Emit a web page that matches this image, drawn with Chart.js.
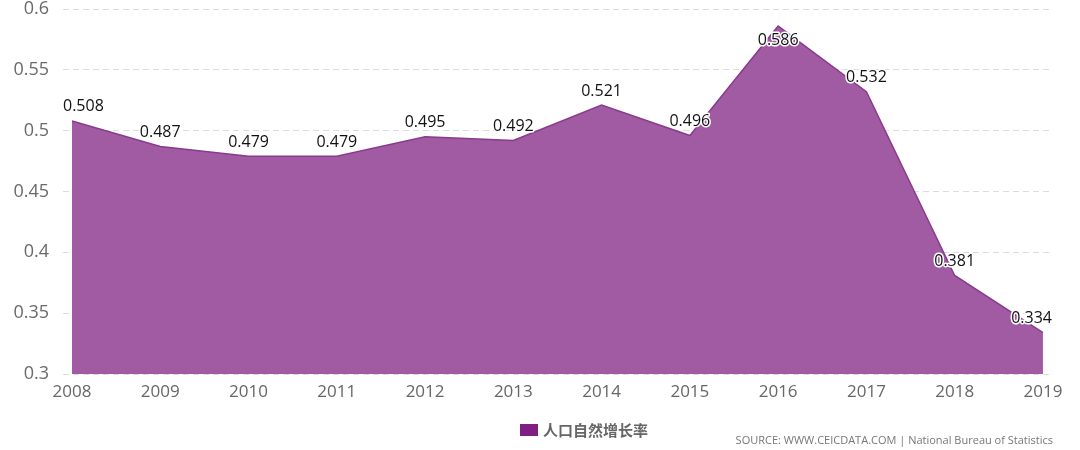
<!DOCTYPE html>
<html><head><meta charset="utf-8">
<script src="https://cdn.jsdelivr.net/npm/chart.js@4/dist/chart.umd.min.js"></script>
<style>
html,body{margin:0;padding:0;background:#fff;}
#wrap{position:relative;width:1080px;height:450px;}
#src{position:absolute;right:27px;top:432px;font:11px "Open Sans","DejaVu Sans",sans-serif;color:#777;white-space:nowrap;}
</style></head>
<body><div id="wrap"><canvas id="c" width="1080" height="450"></canvas>
<div id="src">SOURCE: WWW.CEICDATA.COM | National Bureau of Statistics</div></div>
<script>
const years = [2008,2009,2010,2011,2012,2013,2014,2015,2016,2017,2018,2019];
const values = [0.508,0.487,0.479,0.479,0.495,0.492,0.521,0.496,0.586,0.532,0.381,0.334];
const yTicks = [0.3,0.35,0.4,0.45,0.5,0.55,0.6];
const seriesName = '人口自然增长率';

const labelPlugin = {
  id:'lbl',
  afterDatasetsDraw(chart){
    const ctx = chart.ctx, meta = chart.getDatasetMeta(0);
    ctx.save();
    ctx.font = '16px "Open Sans","DejaVu Sans",sans-serif';
    ctx.textAlign='center'; ctx.textBaseline='middle';
    meta.data.forEach((p,i)=>{
      const t = String(values[i]);
      let y = p.y - 14;
      if (y - 8 < chart.chartArea.top + 10) y = p.y + 14;
      const w = ctx.measureText(t).width;
      let x = Math.min(p.x, chart.width - 28 - w/2);
      x = Math.max(x, chart.chartArea.left + w/2);
      ctx.lineWidth = 3; ctx.strokeStyle='#fff'; ctx.lineJoin='round';
      ctx.strokeText(t,x,y);
      ctx.fillStyle='#111'; ctx.fillText(t,x,y);
    });
    // legend
    ctx.fillStyle='#7f1f82';
    ctx.fillRect(520,424,18,12);
    ctx.font='bold 15px "Noto Sans CJK SC",sans-serif';
    ctx.fillStyle='#666'; ctx.textAlign='left';
    ctx.fillText(seriesName,543,430);
    ctx.restore();
  }
};

new Chart(document.getElementById('c'),{
  type:'line',
  data:{datasets:[{label:seriesName,data:years.map((y,i)=>({x:y,y:values[i]})),
    fill:'start',backgroundColor:'#a15ba3',borderColor:'#8a3a8c',borderWidth:1.5,
    pointRadius:0,tension:0}]},
  options:{responsive:false,animation:false,
    layout:{padding:{top:9,right:30,left:0,bottom:0}},
    plugins:{legend:{display:false},tooltip:{enabled:false}},
    scales:{
      x:{type:'linear',min:2007.898,max:2019.08,
        afterBuildTicks(s){s.ticks=years.map(v=>({value:v}));},
        afterFit(s){s.height=76;s.paddingLeft=0;s.paddingRight=0;},
        grid:{display:false},border:{display:false},
        ticks:{autoSkip:false,maxRotation:0,padding:0,color:'#666',
          font:{size:17,family:'"Open Sans","DejaVu Sans",sans-serif'},
          callback:v=>String(v)}},
      y:{min:0.3,max:0.6,
        afterBuildTicks(s){s.ticks=yTicks.map(v=>({value:v}));},
        afterFit(s){s.width=63;s.paddingTop=0;s.paddingBottom=0;},
        border:{display:false,dash:[6,4]},
        grid:{color:'#dcdcdc',drawTicks:false},
        ticks:{padding:14,color:'#6a6a6a',
          font:{size:18,family:'"Open Sans","DejaVu Sans",sans-serif'},
          callback:v=>String(v)}}
    }},
  plugins:[labelPlugin]
});
</script></body></html>
